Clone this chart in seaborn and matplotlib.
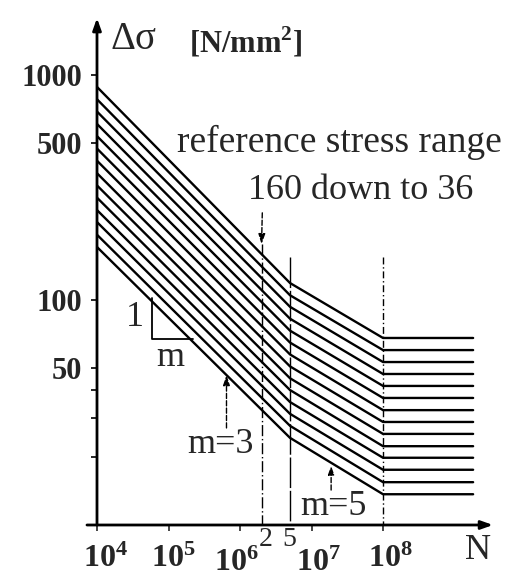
import numpy as np
import pandas as pd
import seaborn as sns
import matplotlib.pyplot as plt

# detail categories (reference stress range at 2e6 cycles)
categories = [160, 140, 125, 112, 100, 90, 80, 71, 63, 56, 50, 45, 40, 36]

# stress ranges at the knee points of each curve
stress_1e4 = [885, 780, 688, 606, 535, 471, 416, 366, 323, 285, 251, 222, 195, 172]
stress_5e6 = [119, 105, 93.3, 82.6, 73.1, 64.7, 57.3, 50.7, 44.9, 39.8, 35.2, 31.2, 27.6, 24.4]
stress_1e8 = [67.8, 59.9, 53.0, 46.9, 41.5, 36.7, 32.4, 28.7, 25.4, 22.4, 19.9, 17.6, 15.5, 13.7]
cycles = [1e4, 5e6, 1e8, 1.82e9]

# vertical guide lines (N) and where they start (stress)
guide_N = [2e6, 5e6, 1e8]
guide_top = [177, 155, 155]

ytick_vals = [20, 30, 40, 50, 100, 500, 1000]
ytick_labels = ['', '', '', '50', '100', '500', '1000']
xtick_vals = [1e4, 1e5, 1e6, 1e7, 1e8]
xtick_exp = ['4', '5', '6', '7', '8']

rows = []
for i, cat in enumerate(categories):
    vals = [stress_1e4[i], stress_5e6[i], stress_1e8[i], stress_1e8[i]]
    for n, s in zip(cycles, vals):
        rows.append({'cat': cat, 'N': n, 'stress': s})
df = pd.DataFrame(rows)

sns.set_style('white')
plt.rcParams['font.family'] = ['Liberation Serif', 'DejaVu Serif']
plt.rcParams['mathtext.fontset'] = 'custom'
plt.rcParams['mathtext.rm'] = 'Liberation Serif'
plt.rcParams['mathtext.bf'] = 'Liberation Serif:bold'

fig = plt.figure(figsize=(5.11, 5.80), dpi=100)
ax = fig.add_axes([97 / 511, 55 / 580, 398 / 511, 510 / 580])

sns.lineplot(data=df, x='N', y='stress', units='cat', estimator=None,
             color='black', lw=1.7, sort=False, ax=ax)

ax.set_xscale('log')
ax.set_yscale('log')
ax.set_xlim(1e4, 10 ** 9.566)
ax.set_ylim(10, 10 ** 3.2667)
ax.set_xlabel('')
ax.set_ylabel('')
for sp in ax.spines.values():
    sp.set_visible(False)

# ticks
ax.set_yticks(ytick_vals)
ax.set_yticklabels(ytick_labels, fontsize=22, fontweight='bold')
ax.set_yticks([], minor=True)
ax.tick_params(axis='y', direction='out', length=4.5, width=1.4, pad=6, left=True)
ax.set_xticks(xtick_vals)
ax.set_xticklabels([''] * len(xtick_vals))
ax.set_xticks([], minor=True)
ax.tick_params(axis='x', direction='out', length=4, width=1.2, bottom=True)

# axes with arrows
ax.annotate('', xy=(1e4, 1790), xytext=(1e4, 10), annotation_clip=False,
            arrowprops=dict(arrowstyle='-|>,head_length=0.7,head_width=0.25',
                            lw=2, color='k', shrinkA=0, shrinkB=0))
ax.annotate('', xy=(3.45e9, 10), xytext=(7.24e3, 10), annotation_clip=False,
            arrowprops=dict(arrowstyle='-|>,head_length=0.7,head_width=0.25',
                            lw=2, color='k', shrinkA=0, shrinkB=0))

# vertical guide lines
styles = [(0, (8, 2, 1, 2)), (0, (22, 2)), (0, (5, 2, 1, 2))]
for n, top, ls in zip(guide_N, guide_top, styles):
    ax.plot([n, n], [top, 10], color='k', lw=1.0, linestyle=ls)

# x tick labels (staggered: 10^6 and 10^7 sit lower)
shift = [1.3, 1.15, 0.88, 1.23, 1.25]
lower = [False, False, True, True, False]
for n, e, k, low in zip(xtick_vals, xtick_exp, shift, lower):
    if low:
        ax.text(n * k, 5.82, r'$\mathbf{10^{%s}}$' % e, fontsize=23,
                ha='center', va='bottom', clip_on=False)
    else:
        ax.text(n * k, 7.0, r'$\mathbf{10^{%s}}$' % e, fontsize=23,
                ha='center', va='center', clip_on=False)
ax.text(2.31e6, 8.58, '2', fontsize=20, ha='center', va='center', clip_on=False)
ax.text(4.84e6, 8.58, '5', fontsize=20, ha='center', va='center', clip_on=False)
ax.text(2.13e9, 7.74, 'N', fontsize=26, ha='center', va='center', clip_on=False)

# y axis title
ax.text(1.52e4, 1431, 'Δσ', fontsize=28, ha='left', va='center')
ax.text(1.95e5, 1400, r'[N/mm$^{\mathbf{2}}$]', fontsize=22, fontweight='bold',
        ha='left', va='center')

# annotations
ax.text(2.43e7, 504, 'reference stress range', fontsize=27, ha='center', va='center')
ax.text(4.92e7, 308, '160 down to 36', fontsize=26, ha='center', va='center')
ax.annotate('', xy=(2e6, 177), xytext=(2.05e6, 244),
            arrowprops=dict(arrowstyle='-|>,head_length=0.6,head_width=0.2',
                            lw=1, ls='--', color='k', shrinkA=0, shrinkB=0))

ax.text(5.25e5, 22.7, 'm=3', fontsize=26, ha='center', va='center')
ax.annotate('', xy=(6.47e5, 46.4), xytext=(6.47e5, 27.0),
            arrowprops=dict(arrowstyle='-|>,head_length=0.6,head_width=0.2',
                            lw=1, ls='--', color='k', shrinkA=0, shrinkB=0))
ax.text(2.0e7, 12.1, 'm=5', fontsize=26, ha='center', va='center')
ax.annotate('', xy=(1.88e7, 18.3), xytext=(1.88e7, 14.3),
            arrowprops=dict(arrowstyle='-|>,head_length=0.5,head_width=0.18',
                            lw=1, ls='--', color='k', shrinkA=0, shrinkB=0))

# slope triangle
ax.plot([5.88e4, 5.88e4, 2.2e5], [102, 67.1, 67.1], color='k', lw=1.3)
ax.text(3.4e4, 84, '1', fontsize=26, ha='center', va='center')
ax.text(1.05e5, 55.8, 'm', fontsize=26, ha='center', va='center')

plt.savefig('out.png', dpi=100)
